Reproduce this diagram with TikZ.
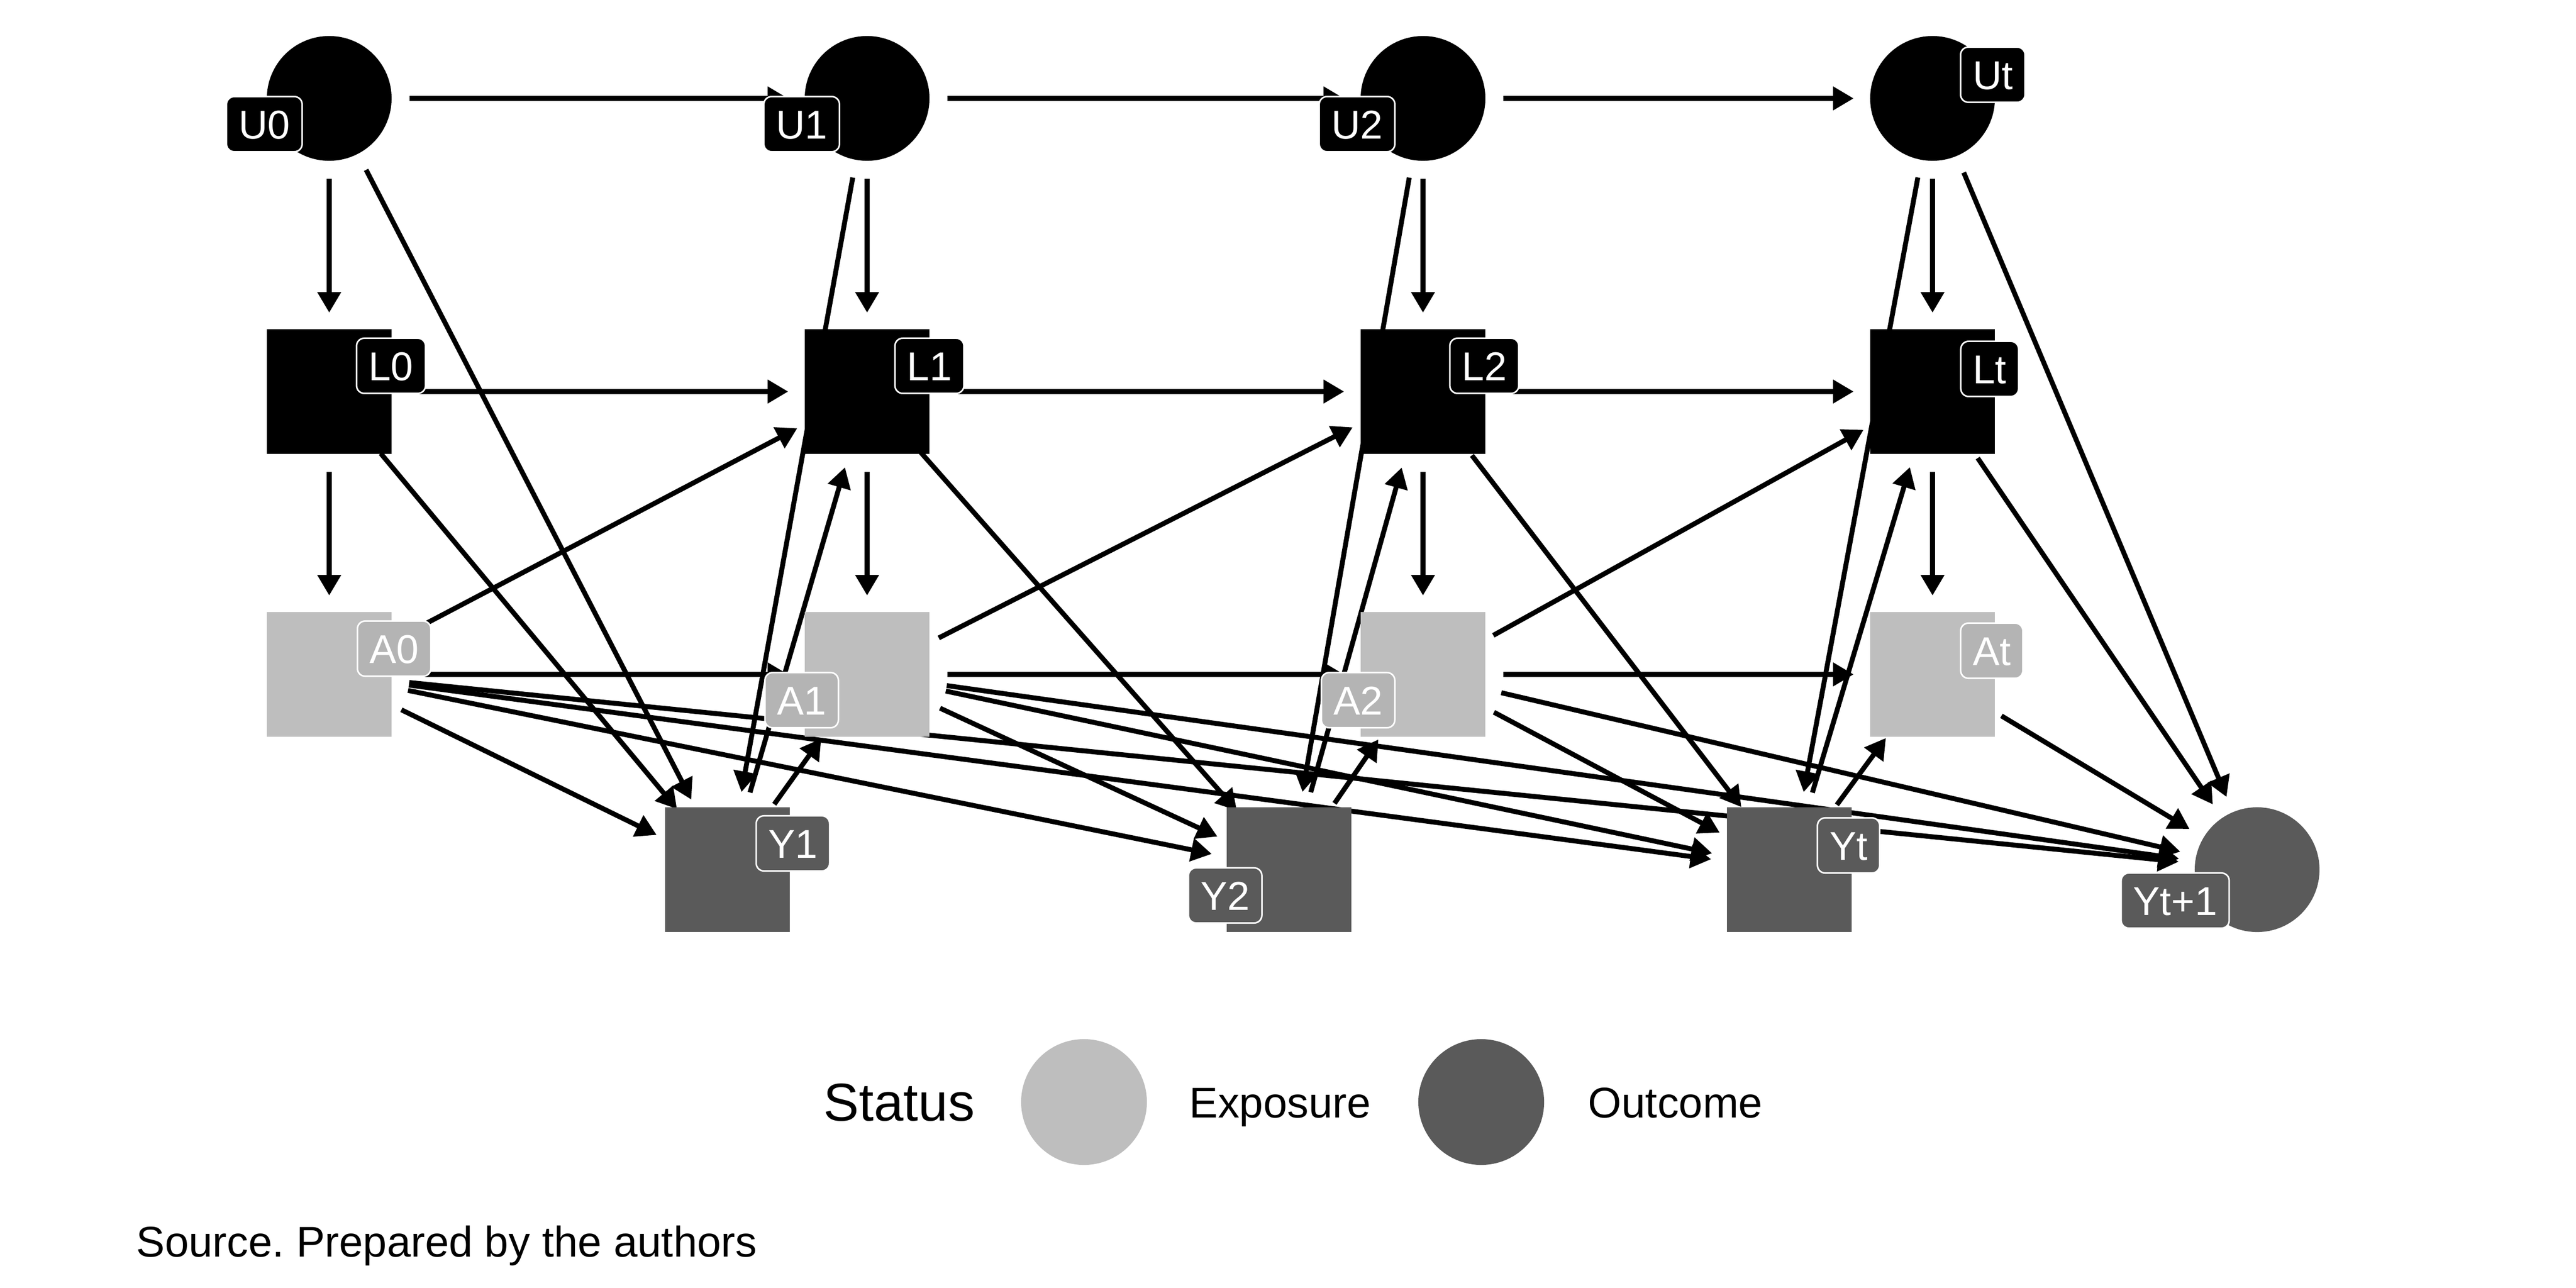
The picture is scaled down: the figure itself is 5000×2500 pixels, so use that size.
\documentclass[tikz,border=0pt]{standalone}
\usepackage{fontspec}
\setmainfont{Liberation Sans}
\usetikzlibrary{arrows.meta}
\pgfdeclarelayer{bglayer}
\pgfdeclarelayer{edgelayer}
\pgfsetlayers{bglayer,edgelayer,main}
\definecolor{expo}{RGB}{190,190,190}
\definecolor{expolab}{RGB}{180,180,180}
\definecolor{outc}{RGB}{90,90,90}
\newcommand\labfont{\fontsize{22.2pt}{26pt}\selectfont}
\newcommand\legfont{\fontsize{23.7pt}{28pt}\selectfont}
\newcommand\titfont{\fontsize{29.4pt}{34pt}\selectfont}
\frenchspacing
\tikzset{
  circnode/.style={circle, minimum size=2.42cm, inner sep=0pt, fill=#1},
  sqnode/.style={rectangle, minimum size=2.42cm, inner sep=0pt, fill=#1},
  lab/.style={rectangle, fill=#1, draw=white, line width=0.03cm, rounded corners=0.15cm,
    text=white, font=\labfont, inner xsep=0.235cm, inner ysep=0pt,
    minimum height=1.07cm, text height=0.56cm, text depth=0cm},
  edge/.style={line width=0.095cm, -{Triangle[length=0.4cm,width=0.44cm]},
    shorten <=1.56cm, shorten >=1.53cm},
  legtext/.style={anchor=base west, inner sep=0pt, font=\legfont},
}
\begin{document}
\begin{tikzpicture}[x=0.01cm, y=-0.01cm]
\useasboundingbox (0,0) rectangle (5000,2500);
\begin{pgfonlayer}{bglayer}
\fill[white] (0,0) rectangle (5000,2500);
\end{pgfonlayer}
% nodes
\node[circnode=black] (U0) at (639,191) {};
\node[circnode=black] (U1) at (1683,191) {};
\node[circnode=black] (U2) at (2762,191) {};
\node[circnode=black] (Ut) at (3751,191) {};
\node[sqnode=black] (L0) at (639,760) {};
\node[sqnode=black] (L1) at (1683,760) {};
\node[sqnode=black] (L2) at (2762,760) {};
\node[sqnode=black] (Lt) at (3751,760) {};
\node[sqnode=expo] (A0) at (639,1309) {};
\node[sqnode=expo] (A1) at (1683,1309) {};
\node[sqnode=expo] (A2) at (2762,1309) {};
\node[sqnode=expo] (At) at (3751,1309) {};
\node[sqnode=outc] (Y1) at (1412,1688) {};
\node[sqnode=outc] (Y2) at (2502,1688) {};
\node[sqnode=outc] (Yt) at (3473,1688) {};
\node[circnode=outc] (Yt1) at (4381,1688) {};
% edges
\begin{pgfonlayer}{edgelayer}
\foreach \a/\b in {U0/U1, U1/U2, U2/Ut,
  U0/L0, U1/L1, U2/L2, Ut/Lt,
  L0/L1, L1/L2, L2/Lt,
  L0/A0, L1/A1, L2/A2, Lt/At,
  A0/A1, A1/A2, A2/At,
  A0/L1, A1/L2, A2/Lt,
  U0/Y1, U1/Y1, U2/Y2, Ut/Yt, Ut/Yt1,
  L0/Y1, L1/Y2, L2/Yt, Lt/Yt1,
  A0/Y1, A0/Y2, A0/Yt, A0/Yt1,
  A1/Y2, A1/Yt, A1/Yt1,
  A2/Yt, A2/Yt1,
  At/Yt1,
  Y1/A1, Y2/A2, Yt/At,
  Y1/L1, Y2/L2, Yt/Lt}
  \draw[edge] (\a.center) -- (\b.center);
\end{pgfonlayer}
% labels
\node[lab=black] (lU0) at (513,241) {U0};
\node[lab=black] (lU1) at (1556,241) {U1};
\node[lab=black] (lU2) at (2634,241) {U2};
\node[lab=black] (lUt) at (3868,145) {Ut};
\node[lab=black] (lL0) at (759,710) {L0};
\node[lab=black] (lL1) at (1804,710) {L1};
\node[lab=black] (lL2) at (2881,710) {L2};
\node[lab=black] (lLt) at (3862,716) {Lt};
\node[lab=expolab] (lA0) at (765,1259) {A0};
\node[lab=expolab] (lA1) at (1556,1359) {A1};
\node[lab=expolab] (lA2) at (2636,1359) {A2};
\node[lab=expolab] (lAt) at (3866,1263) {At};
\node[lab=outc] (lY1) at (1539,1637) {Y1};
\node[lab=outc] (lY2) at (2378,1738) {Y2};
\node[lab=outc] (lYt) at (3588,1641) {Yt};
\node[lab=outc] (lYt1) at (4222,1748) {Yt+1};
% legend
\node[anchor=base west, inner sep=0pt, font=\titfont] (status) at (1598,2175) {Status};
\node[circle, minimum size=2.44cm, inner sep=0pt, fill=expo] (legexpo) at (2104,2139) {};
\node[legtext] (legexpotext) at (2308,2169) {Exposure};
\node[circle, minimum size=2.44cm, inner sep=0pt, fill=outc] (legoutc) at (2875,2139) {};
\node[legtext] (legoutctext) at (3082,2169) {Outcome};
% caption
\node[legtext] (source) at (264,2439) {Source. Prepared by the authors};
\end{tikzpicture}
\end{document}
